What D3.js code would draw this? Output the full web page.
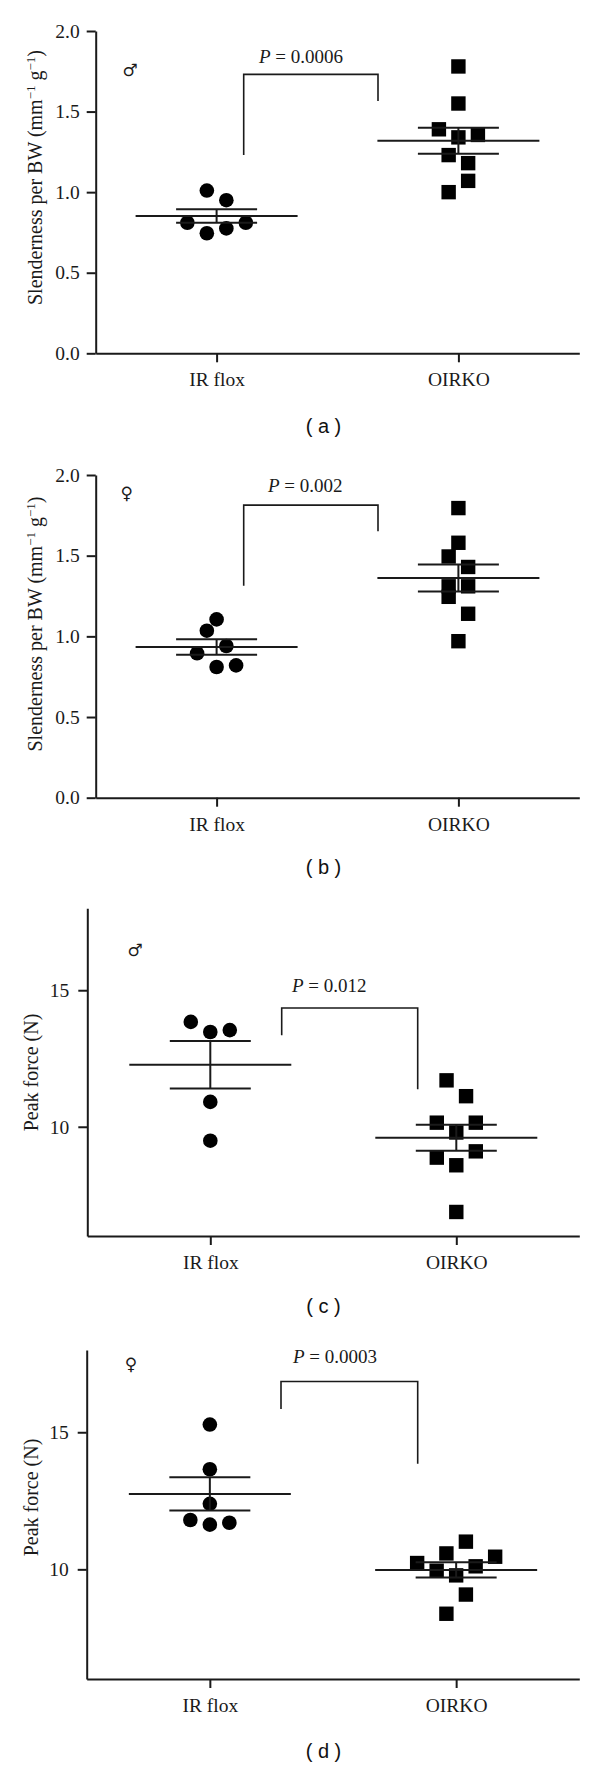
<!DOCTYPE html>
<html>
<head>
<meta charset="utf-8">
<script src="https://cdn.jsdelivr.net/npm/d3@7"></script>
<style>
  html, body { margin: 0; padding: 0; background: #fff; }
  svg { display: block; }
</style>
</head>
<body>
<svg id="chart" width="600" height="1769"></svg>
<script>
// ---------------- DATA ----------------
const categories = ["IR flox", "OIRKO"];

// (a) male slenderness per BW
const aIRflox = [1.01, 0.95, 0.81, 0.81, 0.745, 0.775];
const aOIRKO  = [1.78, 1.55, 1.39, 1.34, 1.355, 1.23, 1.18, 1.07, 1.00];
const aMean = [0.852, 1.319];
const aSEM  = [0.042, 0.081];

// (b) female slenderness per BW
const bIRflox = [1.105, 1.035, 0.895, 0.94, 0.81, 0.82];
const bOIRKO  = [1.795, 1.58, 1.495, 1.43, 1.31, 1.31, 1.245, 1.14, 0.97];
const bMean = [0.934, 1.362];
const bSEM  = [0.048, 0.084];

// (c) male peak force
const cIRflox = [13.84, 13.47, 13.54, 10.91, 9.49];
const cOIRKO  = [11.70, 11.12, 10.15, 10.15, 9.79, 8.87, 9.10, 8.59, 6.88];
const cMean = [12.27, 9.60];
const cSEM  = [0.87, 0.475];

// (d) female peak force
const dIRflox = [15.28, 13.65, 12.39, 11.80, 11.63, 11.70];
const dOIRKO  = [11.01, 10.58, 10.46, 10.23, 10.11, 9.95, 9.78, 9.08, 8.38];
const dMean = [12.75, 9.98];
const dSEM  = [0.605, 0.28];

// scatter column slots (beeswarm arrangement, in half-column units)
const aIRfloxSlot = [-1, 1, -3, 3, -1, 1];
const aOIRKOSlot  = [0, 0, -2, 0, 2, -1, 1, 1, -1];
const bIRfloxSlot = [0, -1, -2, 1, 0, 2];
const bOIRKOSlot  = [0, 0, -1, 1, -1, 1, -1, 1, 0];
const cIRfloxSlot = [-2, 0, 2, 0, 0];
const cOIRKOSlot  = [-1, 1, -2, 2, 0, -2, 2, 0, 0];
const dIRfloxSlot = [0, 0, 0, -2, 0, 2];
const dOIRKOSlot  = [1, -1, 4, -4, 2, -2, 0, 1, -1];

const slenderTicks = [0, 0.5, 1.0, 1.5, 2.0];
const forceTicks = [10, 15];
const pValues = ["0.0006", "0.002", "0.012", "0.0003"];
const sexSymbols = ["\u2642", "\u2640", "\u2642", "\u2640"];
const panelLetters = ["a", "b", "c", "d"];
// bracket ends in data units: [left leg bottom, top, right leg bottom]
const brackets = [[1.23, 1.731, 1.565], [1.314, 1.813, 1.652], [13.35, 14.35, 11.37], [15.85, 16.85, 13.85]];

// ---------------- LAYOUT ----------------
const panels = [
  { groups: [aIRflox, aOIRKO], slots: [aIRfloxSlot, aOIRKOSlot], mean: aMean, sem: aSEM,
    domain: [0, 2], ticks: slenderTicks, fmt: d3.format(".1f"),
    left: 95.7, right: 579.3, top: 31, bottom: 353.3, tickPad: 7,
    title: "slender", titleX: 42, titleY: 177.5,
    sym: [130, 70], pX: 259, pY: 63, bx: [243.7, 378], letterY: 433 },
  { groups: [bIRflox, bOIRKO], slots: [bIRfloxSlot, bOIRKOSlot], mean: bMean, sem: bSEM,
    domain: [0, 2], ticks: slenderTicks, fmt: d3.format(".1f"),
    left: 95.7, right: 579.3, top: 475, bottom: 797.7, tickPad: 7,
    title: "slender", titleX: 42, titleY: 624,
    sym: [126.7, 493], pX: 268, pY: 491.7, bx: [243.7, 378], letterY: 874 },
  { groups: [cIRflox, cOIRKO], slots: [cIRfloxSlot, cOIRKOSlot], mean: cMean, sem: cSEM,
    domain: [6, 18], ticks: forceTicks, fmt: d3.format("d"),
    left: 87.3, right: 579.3, top: 908.3, bottom: 1236, tickPad: 9,
    title: "force", titleX: 37.5, titleY: 1072.5,
    sym: [135, 950], pX: 292, pY: 991.7, bx: [281.7, 417.7], letterY: 1313 },
  { groups: [dIRflox, dOIRKO], slots: [dIRfloxSlot, dOIRKOSlot], mean: dMean, sem: dSEM,
    domain: [6, 18], ticks: forceTicks, fmt: d3.format("d"),
    left: 86.7, right: 579.3, top: 1350, bottom: 1679, tickPad: 9,
    title: "force", titleX: 37.5, titleY: 1497.5,
    sym: [131, 1364], pX: 293, pY: 1362.7, bx: [281, 417.7], letterY: 1758 }
];

const INK = "#1a1a1a";
const SERIF = "'Liberation Serif', 'Times New Roman', serif";
const slotUnit = 9.75;
const circleR = 7.3;
const squareS = 14.4;
const meanHalf = 81;
const semHalf = 40.5;

const svg = d3.select("#chart");

panels.forEach((p, pi) => {
  const g = svg.append("g");
  const y = d3.scaleLinear().domain(p.domain).range([p.bottom, p.top]);
  const x = d3.scalePoint().domain(categories).range([p.left, p.right]).padding(0.5);

  // y axis
  const ya = g.append("g")
    .attr("transform", `translate(${p.left},0)`)
    .call(d3.axisLeft(y).tickValues(p.ticks).tickFormat(p.fmt).tickSize(9).tickSizeOuter(0).tickPadding(p.tickPad));
  // x axis
  const xa = g.append("g")
    .attr("transform", `translate(0,${p.bottom})`)
    .call(d3.axisBottom(x).tickSize(9).tickSizeOuter(0).tickPadding(10));
  [ya, xa].forEach(a => {
    a.select(".domain").attr("stroke", INK).attr("stroke-width", 2);
    a.selectAll(".tick line").attr("stroke", INK).attr("stroke-width", 2);
    a.selectAll(".tick text").attr("fill", INK).style("font-family", SERIF).style("font-size", "19.5px");
  });

  // y title
  const t = g.append("text")
    .attr("transform", `translate(${p.titleX},${p.titleY}) rotate(-90)`)
    .attr("text-anchor", "middle")
    .attr("fill", INK)
    .style("font-family", SERIF)
    .style("font-size", "20px");
  if (p.title === "slender") {
    t.append("tspan").text("Slenderness per BW (mm");
    t.append("tspan").attr("dy", -7.5).style("font-size", "13px").text("\u22121");
    t.append("tspan").attr("dy", 7.5).text(" g");
    t.append("tspan").attr("dy", -7.5).style("font-size", "13px").text("\u22121");
    t.append("tspan").attr("dy", 7.5).text(")");
  } else {
    t.text("Peak force (N)");
  }

  // points
  p.groups.forEach((vals, ci) => {
    const cx = x(categories[ci]);
    const pts = vals.map((v, k) => ({ v, s: p.slots[ci][k] }));
    if (ci === 0) {
      g.selectAll(null).data(pts).enter().append("circle")
        .attr("cx", d => cx + d.s * slotUnit)
        .attr("cy", d => y(d.v))
        .attr("r", circleR)
        .attr("fill", "#000");
    } else {
      g.selectAll(null).data(pts).enter().append("rect")
        .attr("x", d => cx + d.s * slotUnit - squareS / 2)
        .attr("y", d => y(d.v) - squareS / 2)
        .attr("width", squareS)
        .attr("height", squareS)
        .attr("fill", "#000");
    }
    // mean & SEM
    const m = p.mean[ci], se = p.sem[ci];
    const ln = (x1, y1, x2, y2) => g.append("line")
      .attr("x1", x1).attr("y1", y1).attr("x2", x2).attr("y2", y2)
      .attr("stroke", INK).attr("stroke-width", 2);
    ln(cx - meanHalf, y(m), cx + meanHalf, y(m));
    ln(cx - semHalf, y(m + se), cx + semHalf, y(m + se));
    ln(cx - semHalf, y(m - se), cx + semHalf, y(m - se));
    ln(cx, y(m + se), cx, y(m - se));
  });

  // significance bracket
  const b = brackets[pi];
  g.append("path")
    .attr("d", `M${p.bx[0]},${y(b[0])}V${y(b[1])}H${p.bx[1]}V${y(b[2])}`)
    .attr("fill", "none").attr("stroke", INK).attr("stroke-width", 1.6);
  const pt = g.append("text")
    .attr("x", p.pX).attr("y", p.pY)
    .attr("fill", INK)
    .style("font-family", SERIF).style("font-size", "19px");
  pt.append("tspan").style("font-style", "italic").text("P");
  pt.append("tspan").text(" = " + pValues[pi]);

  // sex symbol
  g.append("text")
    .attr("x", p.sym[0]).attr("y", p.sym[1])
    .attr("text-anchor", "middle")
    .attr("dominant-baseline", "central")
    .attr("fill", INK)
    .style("font-family", "'DejaVu Sans', sans-serif")
    .style("font-size", "17px")
    .text(sexSymbols[pi]);

  // panel letter
  svg.append("text")
    .attr("x", 323.5).attr("y", p.letterY)
    .attr("text-anchor", "middle")
    .attr("fill", "#111")
    .style("font-family", "'Liberation Sans', Arial, sans-serif")
    .style("font-size", "20px")
    .style("white-space", "pre")
    .text("( " + panelLetters[pi] + " )");
});
</script>
</body>
</html>
